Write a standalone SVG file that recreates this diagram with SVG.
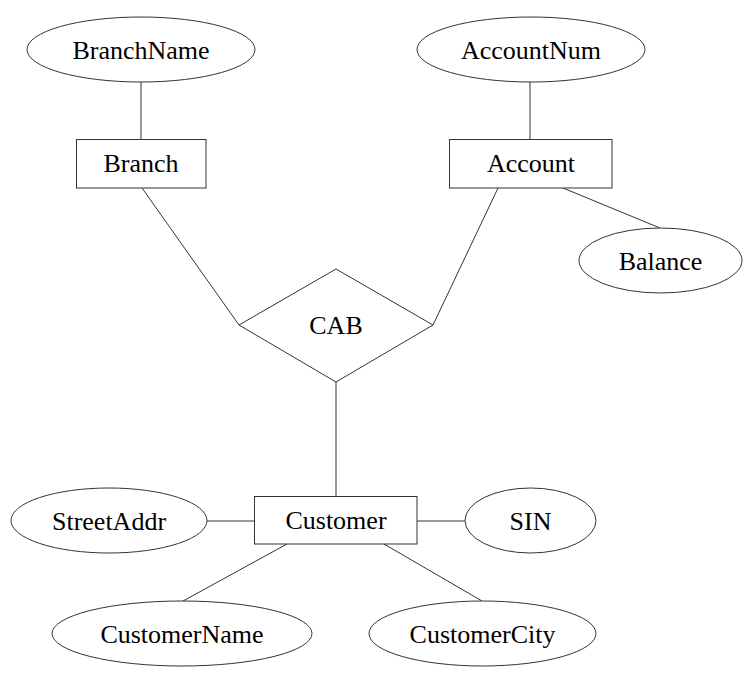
<svg xmlns="http://www.w3.org/2000/svg" width="752" height="678" viewBox="0 0 752 678">
<style>
.s{fill:#fff;stroke:#333;stroke-width:1}
.c line{stroke:#333;stroke-width:1}
text{font-family:"Liberation Serif","Times New Roman",serif;font-size:26px;fill:#000;text-anchor:middle}
</style>
<rect width="752" height="678" fill="#fff"/>
<g class="c" id="connectors">
<line x1="141" y1="82" x2="141" y2="139"/>
<line x1="530" y1="82" x2="530" y2="139"/>
<line x1="563" y1="188" x2="660" y2="228"/>
<line x1="142" y1="188" x2="239" y2="325"/>
<line x1="498" y1="188" x2="433" y2="325"/>
<line x1="336" y1="382" x2="336" y2="496"/>
<line x1="207" y1="521" x2="254" y2="521"/>
<line x1="417" y1="521" x2="465" y2="521"/>
<line x1="287" y1="544" x2="183" y2="601"/>
<line x1="384" y1="544" x2="482" y2="601"/>
</g>
<g id="BranchName"><ellipse class="s" cx="141" cy="49.5" rx="114" ry="32.5"/><text x="141" y="58.5">BranchName</text></g>
<g id="Branch"><rect class="s" x="76.5" y="139.5" width="129.5" height="48.5"/><text x="141" y="172">Branch</text></g>
<g id="AccountNum"><ellipse class="s" cx="531" cy="49.5" rx="114" ry="32.5"/><text x="531" y="58.5">AccountNum</text></g>
<g id="Account"><rect class="s" x="449.5" y="139.5" width="162.5" height="48.5"/><text x="531" y="172">Account</text></g>
<g id="Balance"><ellipse class="s" cx="660.5" cy="260.5" rx="81.5" ry="32.5"/><text x="660.5" y="269.5">Balance</text></g>
<g id="CAB"><polygon class="s" points="336,269 433,325 336,382 239,325"/><text x="336" y="334">CAB</text></g>
<g id="Customer"><rect class="s" x="254.5" y="496.5" width="162.5" height="47.5"/><text x="336" y="529">Customer</text></g>
<g id="StreetAddr"><ellipse class="s" cx="109" cy="520.5" rx="98" ry="32.5"/><text x="109" y="529.5">StreetAddr</text></g>
<g id="SIN"><ellipse class="s" cx="530.5" cy="520.5" rx="65.5" ry="32.5"/><text x="530.5" y="529.5">SIN</text></g>
<g id="CustomerName"><ellipse class="s" cx="182" cy="633.5" rx="130" ry="32.5"/><text x="182" y="642.5">CustomerName</text></g>
<g id="CustomerCity"><ellipse class="s" cx="482.5" cy="633.5" rx="113.5" ry="32.5"/><text x="482.5" y="642.5">CustomerCity</text></g>
</svg>
